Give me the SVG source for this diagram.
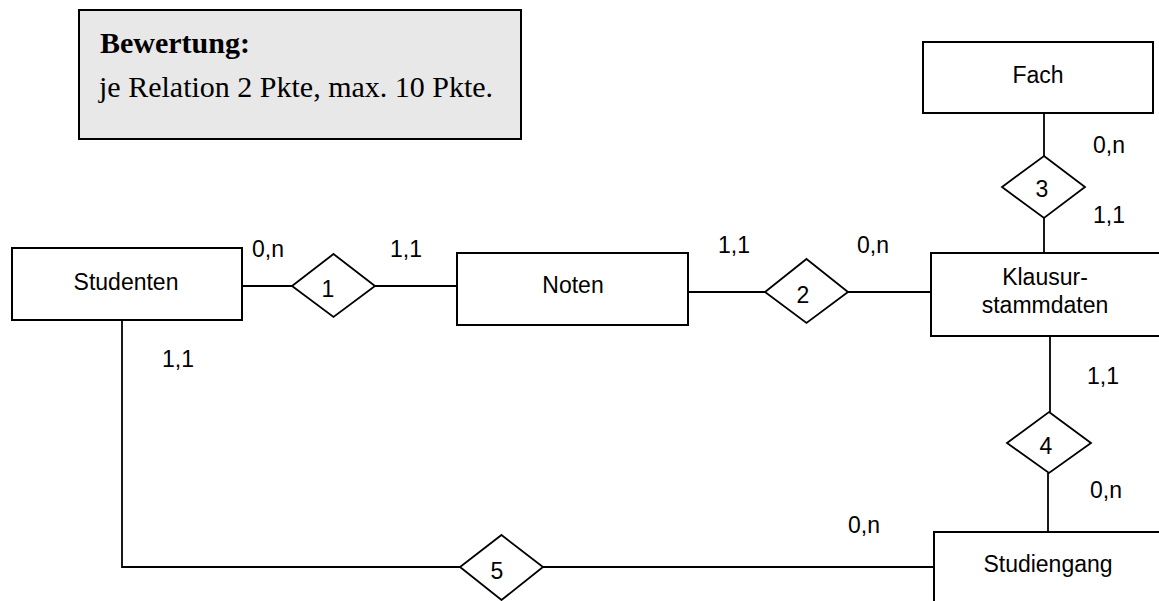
<svg xmlns="http://www.w3.org/2000/svg" width="1159" height="601" viewBox="0 0 1159 601">
<style>
.box{fill:#fff;stroke:#000;stroke-width:2}
.note{fill:#e8e8e8;stroke:#000;stroke-width:2}
.dia{fill:#fff;stroke:#000;stroke-width:1.8}
.ln{fill:none;stroke:#000;stroke-width:1.8}
.t{font-family:"Liberation Sans",Arial,sans-serif;font-size:23px;fill:#000}
.c{text-anchor:middle}
.s{font-family:"Liberation Serif","Times New Roman",serif;font-size:30px;fill:#000}
</style>
<rect width="1159" height="601" fill="#fff"/>
<g id="bewertung">
<rect class="note" x="79" y="10" width="442" height="129"/>
<text class="s" x="100" y="53" font-weight="bold">Bewertung:</text>
<text class="s" x="99" y="97">je Relation 2 Pkte, max. 10 Pkte.</text>
</g>
<g id="connectors">
<line class="ln" x1="240" y1="286" x2="292" y2="286"/>
<line class="ln" x1="375" y1="286" x2="457" y2="286"/>
<line class="ln" x1="686" y1="292" x2="765" y2="292"/>
<line class="ln" x1="848" y1="292" x2="931" y2="292"/>
<line class="ln" x1="1044" y1="113" x2="1044" y2="156"/>
<line class="ln" x1="1044" y1="218" x2="1044" y2="253"/>
<line class="ln" x1="1050" y1="336" x2="1050" y2="412"/>
<line class="ln" x1="1048" y1="473" x2="1048" y2="532"/>
<polyline class="ln" points="122,320 122,567 460,567"/>
<line class="ln" x1="543" y1="567" x2="934" y2="567"/>
</g>
<g id="studenten">
<rect class="box" x="12" y="248" width="230" height="72"/>
<text class="t c" x="126" y="290">Studenten</text>
</g>
<g id="noten">
<rect class="box" x="457" y="253" width="231" height="72"/>
<text class="t c" x="573" y="293">Noten</text>
</g>
<g id="fach">
<rect class="box" x="923" y="42" width="230" height="71"/>
<text class="t c" x="1038" y="83">Fach</text>
</g>
<g id="klausur">
<rect class="box" x="931" y="253" width="240" height="83"/>
<text class="t c" x="1045" y="285">Klausur-</text>
<text class="t c" x="1045" y="313">stammdaten</text>
</g>
<g id="studiengang">
<rect class="box" x="934" y="532" width="240" height="100"/>
<text class="t c" x="1048" y="572">Studiengang</text>
</g>
<g id="rel1">
<polygon class="dia" points="333.5,254 375,286 333.5,317 292,286"/>
<text class="t c" x="328" y="297">1</text>
</g>
<g id="rel2">
<polygon class="dia" points="806.5,259 848,292 806.5,323 765,292"/>
<text class="t c" x="803" y="303">2</text>
</g>
<g id="rel3">
<polygon class="dia" points="1044,156 1085,187 1044,218 1002,187"/>
<text class="t c" x="1042" y="197">3</text>
</g>
<g id="rel4">
<polygon class="dia" points="1049,412 1091,443 1049,473 1007,443"/>
<text class="t c" x="1046" y="454">4</text>
</g>
<g id="rel5">
<polygon class="dia" points="501.5,535 543,567 501.5,600 460,567"/>
<text class="t c" x="497" y="579">5</text>
</g>
<g id="labels">
<text class="t" x="252" y="257">0,n</text>
<text class="t" x="390" y="257">1,1</text>
<text class="t" x="718" y="253">1,1</text>
<text class="t" x="857" y="253">0,n</text>
<text class="t" x="1093" y="153">0,n</text>
<text class="t" x="1093" y="223">1,1</text>
<text class="t" x="162" y="367">1,1</text>
<text class="t" x="1087" y="384">1,1</text>
<text class="t" x="1090" y="498">0,n</text>
<text class="t" x="848" y="533">0,n</text>
</g>
</svg>
